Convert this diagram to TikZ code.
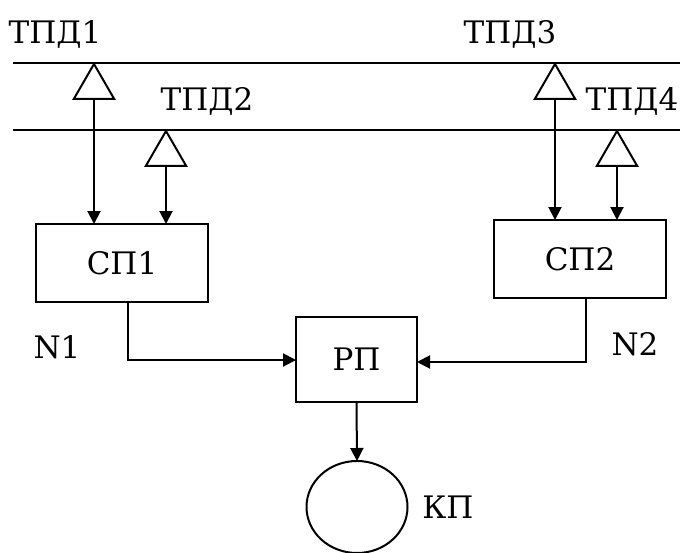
\documentclass[tikz,border=0pt]{standalone}
\usepackage{fontspec}
\setmainfont{DejaVu Serif}
\usetikzlibrary{arrows.meta,shapes.geometric,calc}
\begin{document}
\begin{tikzpicture}[x=1pt,y=-1pt,line width=2pt,
  every node/.style={font=\fontsize{31}{38}\selectfont},
  box/.style={draw,inner sep=0pt,outer sep=0pt},
  antenna/.style={draw,regular polygon,regular polygon sides=3,minimum size=46.6pt,inner sep=0pt,outer sep=0pt},
  lbl/.style={anchor=base,inner sep=0pt},
  arr/.style={-{Triangle[length=13pt,width=13pt]}}]
\useasboundingbox (0,0) rectangle (680,552);
% bus lines
\coordinate (L1a) at (13,63); \coordinate (L1b) at (680,63);
\coordinate (L2a) at (13,130); \coordinate (L2b) at (680,130);
\draw (L1a) -- (L1b);
\draw (L2a) -- (L2b);
% antennas
\node[antenna,anchor=corner 1] (a1) at (94,64) {};
\node[antenna,anchor=corner 1] (a2) at (166,131) {};
\node[antenna,anchor=corner 1] (a3) at (555,64) {};
\node[antenna,anchor=corner 1] (a4) at (617,131) {};
% labels
\node[lbl] (t1) at (55,43) {ТПД1};
\node[lbl] (t2) at (207,110) {ТПД2};
\node[lbl] (t3) at (510,43) {ТПД3};
\node[lbl] (t4) at (632,110) {ТПД4};
% boxes
\node[box,minimum width=172pt,minimum height=78pt] (sp1) at (122,263) {СП1};
\node[box,minimum width=172pt,minimum height=78pt] (sp2) at (580,259) {СП2};
\node[box,minimum width=121pt,minimum height=85pt] (rp) at (356.5,359.5) {РП};
\node[draw,ellipse,minimum width=101pt,minimum height=92pt,inner sep=0pt,outer sep=0pt] (kp) at (357,507) {};
\node[lbl] (n1) at (57,358) {N1};
\node[lbl] (n2) at (635,355) {N2};
\node[lbl] (kpl) at (448,518) {КП};
% connectors
\draw[arr] (a1.side 2) -- (a1.side 2 |- sp1.north);
\draw[arr] (a2.side 2) -- (a2.side 2 |- sp1.north);
\draw[arr] (a3.side 2) -- (a3.side 2 |- sp2.north);
\draw[arr] (a4.side 2) -- (a4.side 2 |- sp2.north);
\coordinate (c1) at (128,360);
\coordinate (c2) at (586,362);
\draw[arr] (c1 |- sp1.south) -- (c1) -- (c1 -| rp.west);
\draw[arr] (c2 |- sp2.south) -- (c2) -- (c2 -| rp.east);
\draw[arr] (rp.south) -- (kp.north);
\end{tikzpicture}
\end{document}
